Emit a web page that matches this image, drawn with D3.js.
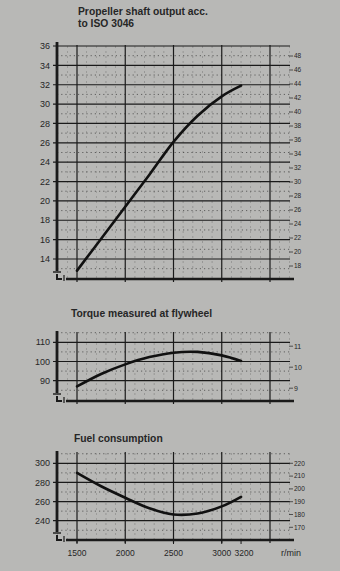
<!DOCTYPE html>
<html><head><meta charset="utf-8">
<script src="https://cdn.jsdelivr.net/npm/d3@7"></script>
<style>body{margin:0;background:#b8b8b6;overflow:hidden}</style>
</head><body>
<script>
// ---- data ----
const rpm       = [1500, 1750, 2000, 2250, 2500, 2750, 3000, 3200];
const powerKW   = [12.8, 16.1, 19.4, 22.7, 26.1, 28.8, 30.8, 31.9];
const torqueNm  = [87.0, 93.5, 98.5, 102.3, 104.6, 105.0, 103.2, 100.3];
const fuelGkWh  = [290, 276, 264, 253, 246.5, 247.5, 255, 265];
const xTickLabels = [1500, 2000, 2500, 3000, 3200];
const powerTicks  = [14,16,18,20,22,24,26,28,30,32,34,36];
const hpTicks     = [18,20,22,24,26,28,30,32,34,36,38,40,42,44,46,48];
const torqueTicks = [90, 100, 110];
const kpmTicks    = [9, 10, 11];
const fuelTicks   = [240, 260, 280, 300];
const ghphTicks   = [170, 180, 190, 200, 210, 220];
const titles = [["Propeller shaft output acc.", "to ISO 3046"], ["Torque measured at flywheel"], ["Fuel consumption"]];

const W = 340, H = 571;
const ink = "#1a1a1a", txt = "#262626";
const svg = d3.select("body").append("svg").attr("width", W).attr("height", H);
svg.append("rect").attr("width", W).attr("height", H).attr("fill", "#b8b8b6");

const x = d3.scaleLinear().domain([1500, 3500]).range([77, 270]);
const gridL = 57, gridR = 290;
const majorX = [1500, 2000, 2500, 3000, 3500];
const minorX = d3.range(1300, 3701, 100).filter(v => !majorX.includes(v));

const panels = [
  { y: d3.scaleLinear().domain([14, 36]).range([259, 46]), data: powerKW,
    leftTicks: powerTicks, minors: d3.range(13, 36, 2),
    yr: d3.scaleLinear().domain([18, 48]).range([266, 56]), rightTicks: hpTicks, rfs: 6.5,
    gTop: 46, axTop: 42, axisY: 279, title: titles[0], tx: 78, ty: 15 },
  { y: d3.scaleLinear().domain([90, 110]).range([380.7, 342.3]), data: torqueNm,
    leftTicks: torqueTicks, minors: [85, 95, 105, 115],
    yr: d3.scaleLinear().domain([9, 11]).range([388.2, 346.2]), rightTicks: kpmTicks, rfs: 7,
    gTop: 333, axTop: 331, axisY: 401, title: titles[1], tx: 71, ty: 317 },
  { y: d3.scaleLinear().domain([240, 300]).range([520.7, 463.3]), data: fuelGkWh,
    leftTicks: fuelTicks, minors: [230, 250, 270, 290, 310],
    yr: d3.scaleLinear().domain([170, 220]).range([527.3, 463.3]), rightTicks: ghphTicks, rfs: 6.5,
    gTop: 453, axTop: 451, axisY: 540, title: titles[2], tx: 74, ty: 442 }
];

panels.forEach((p, i) => {
  const g = svg.append("g");
  const t = g.append("text").attr("x", p.tx).attr("y", p.ty)
    .attr("font-family", "Liberation Sans, Arial, sans-serif").attr("font-weight", "bold")
    .attr("font-size", 10.3).attr("fill", txt);
  p.title.forEach((line, k) => t.append("tspan").attr("x", p.tx).attr("dy", k ? 12 : 0).text(line));

  g.selectAll(".mv").data(minorX).join("line")
    .attr("x1", d => x(d)).attr("x2", d => x(d)).attr("y1", p.gTop).attr("y2", p.axisY)
    .attr("stroke", "#3a3a3a").attr("stroke-width", 0.6).attr("stroke-dasharray", "2,3").attr("opacity", 0.45);
  g.selectAll(".mh").data(p.minors).join("line")
    .attr("x1", gridL).attr("x2", gridR).attr("y1", d => p.y(d)).attr("y2", d => p.y(d))
    .attr("stroke", "#333").attr("stroke-width", 0.9).attr("stroke-dasharray", "1.2,3").attr("opacity", 0.75);
  g.selectAll(".Mh").data(p.leftTicks).join("line")
    .attr("x1", gridL - 4).attr("x2", gridR).attr("y1", d => p.y(d)).attr("y2", d => p.y(d))
    .attr("stroke", ink).attr("stroke-width", 1.2);
  g.selectAll(".Mv").data(majorX).join("line")
    .attr("x1", d => x(d)).attr("x2", d => x(d)).attr("y1", p.gTop - 1).attr("y2", p.axisY + 3)
    .attr("stroke", ink).attr("stroke-width", 1.2);

  const ab = p.axisY - 8;
  g.append("line").attr("x1", gridL).attr("x2", gridL).attr("y1", p.axTop).attr("y2", ab)
    .attr("stroke", ink).attr("stroke-width", 2.8);
  g.append("line").attr("x1", gridL - 4).attr("x2", gridL + 4).attr("y1", ab + 1).attr("y2", ab + 1)
    .attr("stroke", ink).attr("stroke-width", 1.4);
  g.append("path").attr("d", `M${gridL},${ab + 3} L${gridL},${p.axisY} L${gridL + 5},${p.axisY}`)
    .attr("fill", "none").attr("stroke", ink).attr("stroke-width", 2);
  g.append("line").attr("x1", gridL + 7).attr("x2", gridL + 7).attr("y1", p.axisY - 4).attr("y2", p.axisY + 2)
    .attr("stroke", ink).attr("stroke-width", 1.2);
  g.append("line").attr("x1", gridL + 9).attr("x2", gridR + 4).attr("y1", p.axisY).attr("y2", p.axisY)
    .attr("stroke", ink).attr("stroke-width", 2.6);

  g.selectAll(".ll").data(p.leftTicks).join("text")
    .attr("x", 50).attr("y", d => p.y(d)).attr("dy", "0.35em").attr("text-anchor", "end")
    .attr("font-family", "Liberation Sans, Arial, sans-serif").attr("font-size", 9).attr("fill", txt)
    .text(d => d);
  g.selectAll(".rt").data(p.rightTicks).join("line")
    .attr("x1", gridR - 1).attr("x2", gridR + 3).attr("y1", d => p.yr(d)).attr("y2", d => p.yr(d))
    .attr("stroke", "#333").attr("stroke-width", 0.8);
  g.selectAll(".rl").data(p.rightTicks).join("text")
    .attr("x", 294).attr("y", d => p.yr(d)).attr("dy", "0.35em")
    .attr("font-family", "Liberation Sans, Arial, sans-serif").attr("font-size", p.rfs).attr("fill", txt)
    .text(d => d);

  const line = d3.line().x((d, k) => x(rpm[k])).y(d => p.y(d)).curve(d3.curveCatmullRom.alpha(0.5));
  g.append("path").attr("d", line(p.data)).attr("fill", "none")
    .attr("stroke", "#111").attr("stroke-width", 2.6).attr("stroke-linecap", "round");
});

const last = panels[2];
svg.selectAll(".xt").data(xTickLabels).join("line")
  .attr("x1", d => x(d)).attr("x2", d => x(d)).attr("y1", last.axisY).attr("y2", last.axisY + 4)
  .attr("stroke", ink).attr("stroke-width", 1);
svg.selectAll(".xl").data(xTickLabels).join("text")
  .attr("x", d => x(d) + (d === 3200 ? 3 : 0)).attr("y", 556).attr("text-anchor", "middle")
  .attr("font-family", "Liberation Sans, Arial, sans-serif").attr("font-size", 8.5).attr("fill", txt)
  .text(d => d);
svg.append("text").attr("x", 281).attr("y", 556)
  .attr("font-family", "Liberation Sans, Arial, sans-serif").attr("font-size", 9).attr("fill", txt)
  .text("r/min");
</script>
</body></html>
